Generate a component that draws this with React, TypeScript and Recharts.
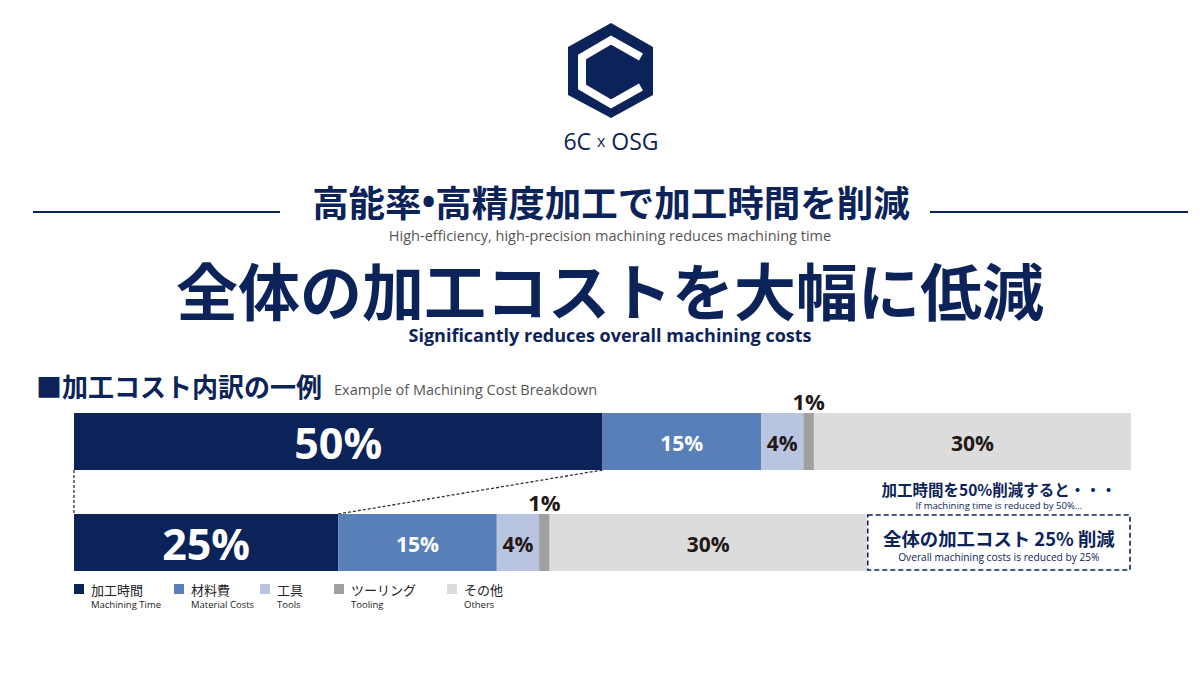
import { Bar, BarChart, LabelList, XAxis, YAxis } from "recharts";

const rows = ["before", "after"];
const machiningTime = [50, 25];
const materialCosts = [15, 15];
const tools = [4, 4];
const tooling = [1, 1];
const others = [30, 30];
const saved = [0, 25];

const seriesKeys = ["time", "material", "tools", "tooling", "others"];
const seriesJa = ["加工時間", "材料費", "工具", "ツーリング", "その他"];
const seriesEn = ["Machining Time", "Material Costs", "Tools", "Tooling", "Others"];
const seriesColors = ["#0c2359", "#587fb8", "#b9c4e0", "#a0a0a0", "#dcdcdc"];

const NAVY = "#0c2359";
const DARK = "#231815";
const JP = "'Noto Sans CJK JP', 'Noto Sans', sans-serif";
const LATIN = "'Open Sans', 'Noto Sans', sans-serif";

const data = rows.map((name, i) => ({
  name,
  time: machiningTime[i],
  material: materialCosts[i],
  tools: tools[i],
  tooling: tooling[i],
  others: others[i],
  saved: saved[i],
}));

// first row's time bar is kept here so the second row can draw the dotted connectors
const firstRow: { x: number; y: number; width: number; height: number } = { x: 0, y: 0, width: 0, height: 0 };

function TimeShape(props: any) {
  const { x, y, width, height, index, fill } = props;
  if (index === 0) {
    firstRow.x = x;
    firstRow.y = y;
    firstRow.width = width;
    firstRow.height = height;
  }
  const bottom = firstRow.y + firstRow.height;
  return (
    <g>
      <rect x={x} y={y} width={width} height={height} fill={fill} />
      {index === 1 && (
        <g stroke="#333" strokeWidth={1.3} strokeDasharray="3 2">
          <line x1={x} y1={bottom} x2={x} y2={y} />
          <line x1={firstRow.x + firstRow.width} y1={bottom} x2={x + width} y2={y} />
        </g>
      )}
    </g>
  );
}

function SavedShape(props: any) {
  const { x, y, width, height } = props;
  if (!width) return null;
  const cx = x + width / 2;
  return (
    <g>
      <rect x={x + 1} y={y + 1} width={width - 2} height={height - 2} fill="none" stroke={NAVY} strokeWidth={1.6} strokeDasharray="5 3" />
      <text x={cx} y={y - 25} textAnchor="middle" dominantBaseline="central" fill={NAVY} fontFamily={JP} fontWeight={700} fontSize={15.5}>
        加工時間を50%削減すると・・・
      </text>
      <text x={cx} y={y - 9} textAnchor="middle" dominantBaseline="central" fill={NAVY} fontFamily={LATIN} fontSize={9.5}>
        If machining time is reduced by 50%...
      </text>
      <text x={cx} y={y + 24} textAnchor="middle" dominantBaseline="central" fill={NAVY} fontFamily={JP} fontWeight={700} fontSize={18.4}>
        全体の加工コスト 25% 削減
      </text>
      <text x={cx} y={y + 43} textAnchor="middle" dominantBaseline="central" fill={NAVY} fontFamily={LATIN} fontSize={10.2}>
        Overall machining costs is reduced by 25%
      </text>
    </g>
  );
}

function makeLabel(size: number, color: string, above = false) {
  return (props: any) => {
    const { x, y, width, height, value } = props;
    if (!value) return null;
    return (
      <text
        x={x + width / 2}
        y={above ? y - 12 : y + height / 2 + 1}
        textAnchor="middle"
        dominantBaseline="central"
        fill={color}
        fontFamily={LATIN}
        fontWeight={700}
        fontSize={size}
      >
        {value}%
      </text>
    );
  };
}

const labelFor = [
  makeLabel(43, "#ffffff"),
  makeLabel(21, "#ffffff"),
  makeLabel(21, DARK),
  makeLabel(22, DARK, true),
  makeLabel(21, DARK),
];

function Decorations() {
  const legendX = [74, 174, 260, 334, 447];
  return (
    <svg width={1200} height={675} style={{ position: "absolute", left: 0, top: 0 }}>
      {/* logo */}
      <polygon points="611,23 653,47 653,95 611,118 568,95 568,47" fill={NAVY} />
      <polyline points="641,57 611,40 582,57 582,87 611,104 641,87" fill="none" stroke="#fff" strokeWidth={8} />
      <text x={611} y={141} textAnchor="middle" dominantBaseline="central" fill={NAVY} fontFamily={LATIN} fontSize={23}>
        6C <tspan fontSize={16}>x</tspan> OSG
      </text>

      <line x1={33} y1={212} x2={280} y2={212} stroke={NAVY} strokeWidth={2} />
      <line x1={930} y1={212} x2={1188} y2={212} stroke={NAVY} strokeWidth={2} />
      <text x={611} y={201} textAnchor="middle" dominantBaseline="central" fill={NAVY} fontFamily={JP} fontWeight={700} fontSize={36.5}>
        高能率<tspan fontFamily={LATIN}>•</tspan>高精度加工で加工時間を削減
      </text>
      <text x={610} y={235} textAnchor="middle" dominantBaseline="central" fill="#555" fontFamily={LATIN} fontSize={14.5}>
        High-efficiency, high-precision machining reduces machining time
      </text>
      <text x={610} y={289} textAnchor="middle" dominantBaseline="central" fill={NAVY} fontFamily={JP} fontWeight={700} fontSize={62}>
        全体の加工コストを大幅に低減
      </text>
      <text x={610} y={335} textAnchor="middle" dominantBaseline="central" fill={NAVY} fontFamily={LATIN} fontWeight={700} fontSize={18}>
        Significantly reduces overall machining costs
      </text>

      <text x={36} y={385} dominantBaseline="central" fill={NAVY} fontFamily={JP} fontWeight={700} fontSize={26}>
        ■加工コスト内訳の一例
      </text>
      <text x={334} y={389} dominantBaseline="central" fill="#555" fontFamily={LATIN} fontSize={14.5}>
        Example of Machining Cost Breakdown
      </text>

      {seriesKeys.map((k, i) => (
        <g key={k}>
          <rect x={legendX[i]} y={584} width={10} height={10} fill={seriesColors[i]} />
          <text x={legendX[i] + 17} y={589} dominantBaseline="central" fill="#222" fontFamily={JP} fontSize={13}>
            {seriesJa[i]}
          </text>
          <text x={legendX[i] + 17} y={604} dominantBaseline="central" fill="#222" fontFamily={LATIN} fontSize={9.5}>
            {seriesEn[i]}
          </text>
        </g>
      ))}
    </svg>
  );
}

export default function App() {
  return (
    <div style={{ position: "absolute", left: 0, top: 0, width: 1200, height: 675, background: "#fff" }}>
      <Decorations />
      <div style={{ position: "absolute", left: 0, top: 0 }}>
        <BarChart width={1200} height={675} data={data} layout="vertical" margin={{ top: 391, bottom: 82, left: 74, right: 69 }}>
          <XAxis type="number" domain={[0, 100]} hide />
          <YAxis type="category" dataKey="name" hide />
          {seriesKeys.map((k, i) => (
            <Bar
              key={k}
              dataKey={k}
              stackId="cost"
              barSize={57}
              fill={seriesColors[i]}
              isAnimationActive={false}
              shape={k === "time" ? TimeShape : undefined}
            >
              <LabelList dataKey={k} content={labelFor[i]} />
            </Bar>
          ))}
          <Bar dataKey="saved" stackId="cost" barSize={57} fill="none" isAnimationActive={false} shape={SavedShape} />
        </BarChart>
      </div>
    </div>
  );
}
